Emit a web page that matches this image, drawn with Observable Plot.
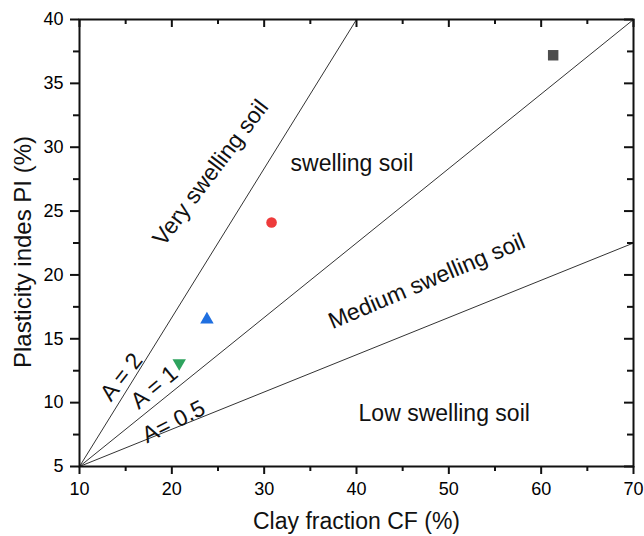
<!DOCTYPE html>
<html>
<head>
<meta charset="utf-8">
<script src="https://cdn.jsdelivr.net/npm/d3@7"></script>
<script src="https://cdn.jsdelivr.net/npm/@observablehq/plot@0.6"></script>
<style>
  html, body { margin: 0; padding: 0; background: #fff; }
  svg { display: block; }
</style>
</head>
<body>
<div id="chart"></div>
<script>
// Samples (clay fraction %, plasticity index %)
const sampleCF = [61.3, 30.8, 23.8, 20.8];
const samplePI = [37.2, 24.1, 16.5, 13.1];
const sampleSymbol = ["square", "circle", "triangle", "triangle-down"];
const sampleColor = ["#4d4d4d", "#ee3b3b", "#1f6fe0", "#2ea35e"];

// Activity lines: start point and end point
const lineNames = ["A = 2", "A = 1", "A = 0.5"];
const lineStartCF = [10, 10, 10];
const lineStartPI = [5, 5, 5];
const lineEndCF = [40, 70, 70];
const lineEndPI = [40, 40, 22.5];

// Annotations
const annText = ["Very swelling soil", "swelling soil", "Medium swelling soil", "Low swelling soil", "A = 2", "A = 1", "A= 0.5"];
const annCF = [24.2, 39.5, 47.6, 49.5, 14.55, 18.1, 20.2];
const annPI = [28.0, 28.7, 19.5, 9.15, 12.0, 11.2, 8.5];
const annRotate = [-53, 0, -23, 0, -52, -40, -27];

// Axis domains and ticks
const xDomain = [10, 70];
const yDomain = [5, 40];
const xMajor = [10, 20, 30, 40, 50, 60, 70];
const xMinor = [15, 25, 35, 45, 55, 65];
const yMajor = [5, 10, 15, 20, 25, 30, 35, 40];
const yMinor = [7.5, 12.5, 17.5, 22.5, 27.5, 32.5, 37.5];

const samples = sampleCF.map((x, i) => ({x, y: samplePI[i], symbol: sampleSymbol[i], color: sampleColor[i]}));
const lines = lineNames.map((n, i) => ({name: n, x1: lineStartCF[i], y1: lineStartPI[i], x2: lineEndCF[i], y2: lineEndPI[i]}));
const anns = annText.map((t, i) => ({text: t, x: annCF[i], y: annPI[i], rotate: annRotate[i]}));

const font = "'Liberation Sans', Arial, sans-serif";
const axisStroke = "#111";
const tickW = 2;

// downward-pointing triangle symbol
const sqrt3 = Math.sqrt(3);
const triangleDown = {
  draw(context, size) {
    const y = -Math.sqrt(size / (sqrt3 * 3));
    context.moveTo(0, -y * 2);
    context.lineTo(-sqrt3 * y, y);
    context.lineTo(sqrt3 * y, y);
    context.closePath();
  }
};

// tick marks anchored on the frame edges: outward on bottom/left, inward on top/right
const bottomTicks = (vals, len) => Plot.ruleX(vals, {x: d => d, y1: () => yDomain[0], y2: () => yDomain[0], insetBottom: -len, stroke: axisStroke, strokeWidth: tickW});
const topTicks = (vals, len) => Plot.ruleX(vals, {x: d => d, y1: () => yDomain[1], y2: () => yDomain[1], insetBottom: -len, stroke: axisStroke, strokeWidth: tickW});
const leftTicks = (vals, len) => Plot.ruleY(vals, {y: d => d, x1: () => xDomain[0], x2: () => xDomain[0], insetLeft: -len, stroke: axisStroke, strokeWidth: tickW});
const rightTicks = (vals, len) => Plot.ruleY(vals, {y: d => d, x1: () => xDomain[1], x2: () => xDomain[1], insetLeft: -len, stroke: axisStroke, strokeWidth: tickW});

const chart = Plot.plot({
  width: 644,
  height: 536,
  marginLeft: 79,
  marginRight: 11,
  marginTop: 19,
  marginBottom: 70,
  style: {fontFamily: font, background: "#fff", color: "#000"},
  x: {domain: xDomain, label: null},
  y: {domain: yDomain, label: null},
  marks: [
    Plot.link(lines, {x1: "x1", y1: "y1", x2: "x2", y2: "y2", stroke: "#333", strokeWidth: 1}),
    Plot.dot(samples.filter(d => d.symbol === "square"), {x: "x", y: "y", symbol: "square", fill: "color", r: 5.9}),
    Plot.dot(samples.filter(d => d.symbol === "circle"), {x: "x", y: "y", symbol: "circle", fill: "color", r: 5.3}),
    Plot.dot(samples.filter(d => d.symbol === "triangle"), {x: "x", y: "y", symbol: "triangle", fill: "color", r: 5}),
    Plot.dot(samples.filter(d => d.symbol === "triangle-down"), {x: "x", y: "y", symbol: triangleDown, fill: "color", r: 5}),
    Plot.text(anns, {x: "x", y: "y", text: "text", rotate: "rotate", fontSize: 23, fill: "#111", fontFamily: font}),
    // tick labels
    Plot.axisX({ticks: xMajor, tickSize: 0, tickPadding: 16, fontSize: 18, tickFormat: d => d, label: null}),
    Plot.axisY({ticks: yMajor, tickSize: 0, tickPadding: 16, fontSize: 18, tickFormat: d => d, label: null}),
    Plot.frame({stroke: axisStroke, strokeWidth: 2}),
    // axis titles
    Plot.text(["Clay fraction CF (%)"], {frameAnchor: "bottom", lineAnchor: "middle", textAnchor: "middle", dy: 55, fontSize: 23, fill: "#111", fontFamily: font}),
    Plot.text(["Plasticity indes PI (%)"], {frameAnchor: "left", lineAnchor: "middle", textAnchor: "middle", dx: -56, dy: 9, rotate: -90, fontSize: 24, fill: "#111", fontFamily: font}),
    // tick marks, drawn last
    bottomTicks(xMajor, 8), bottomTicks(xMinor, 5),
    topTicks(xMajor, 8), topTicks(xMinor, 5),
    leftTicks(yMajor, 9), leftTicks(yMinor, 6),
    rightTicks(yMajor, 9), rightTicks(yMinor, 6)
  ]
});

document.getElementById("chart").appendChild(chart);
</script>
</body>
</html>
